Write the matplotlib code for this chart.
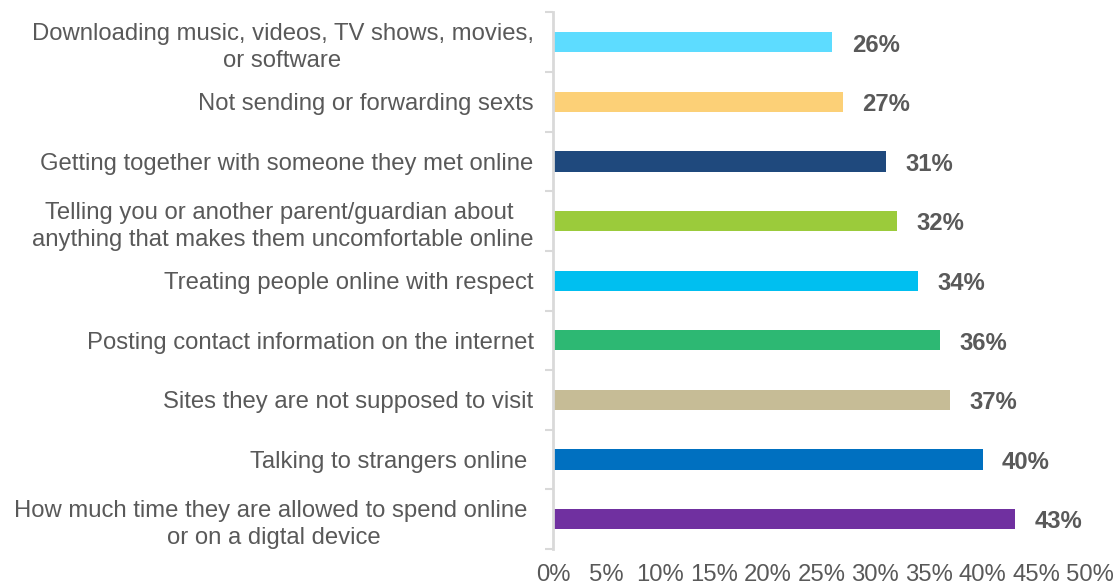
import matplotlib.pyplot as plt
import numpy as np
from matplotlib.ticker import FixedLocator

plt.rcParams['font.family'] = ['Liberation Sans', 'DejaVu Sans']

topics = [
    'Downloading music, videos, TV shows, movies,\nor software',
    'Not sending or forwarding sexts',
    'Getting together with someone they met online',
    'Telling you or another parent/guardian about \nanything that makes them uncomfortable online',
    'Treating people online with respect',
    'Posting contact information on the internet',
    'Sites they are not supposed to visit',
    'Talking to strangers online ',
    'How much time they are allowed to spend online \nor on a digtal device',
]
shares = [26, 27, 31, 32, 34, 36, 37, 40, 43]
colors = ['#5DDCFF', '#FCD077', '#1F497D', '#9BCB3B', '#00BFF0',
          '#2DB873', '#C6BC96', '#0070C0', '#7030A0']
xticks = [0, 5, 10, 15, 20, 25, 30, 35, 40, 45, 50]

text_color = '#595959'
grid_gray = '#D9D9D9'
fs = 17.2

fig = plt.figure(figsize=(11.19, 5.88), dpi=100)
ax = fig.add_axes([553 / 1119, 1 - 549 / 588, (1090 - 553) / 1119, (549 - 12.5) / 588])

y = np.arange(len(topics))
ax.barh(y, shares, height=0.34, color=colors, edgecolor='none')

for yi, v in zip(y, shares):
    ax.annotate(f'{v}%', xy=(v, yi), xytext=(14, -2), textcoords='offset points',
                va='center', ha='left', fontsize=fs, fontweight='bold',
                color=text_color)

ax.set_xlim(0, 50)
ax.set_ylim(len(topics) - 0.5, -0.5)

ax.set_yticks(y)
ax.set_yticklabels(topics, fontsize=fs, color=text_color,
                   multialignment='center', linespacing=1.3)
ax.yaxis.set_minor_locator(FixedLocator(np.arange(-0.5, len(topics), 1.0)))
ax.tick_params(axis='y', which='major', length=0, pad=14)
ax.tick_params(axis='y', which='minor', length=6, width=1.5, color=grid_gray)

ax.set_xticks(xticks)
ax.set_xticklabels([f'{t}%' for t in xticks], fontsize=fs, color=text_color)
ax.tick_params(axis='x', length=0, pad=11)

for side in ['top', 'right', 'bottom']:
    ax.spines[side].set_visible(False)
ax.spines['left'].set_color(grid_gray)
ax.spines['left'].set_linewidth(2)

fig.savefig('out.png', dpi=100)
